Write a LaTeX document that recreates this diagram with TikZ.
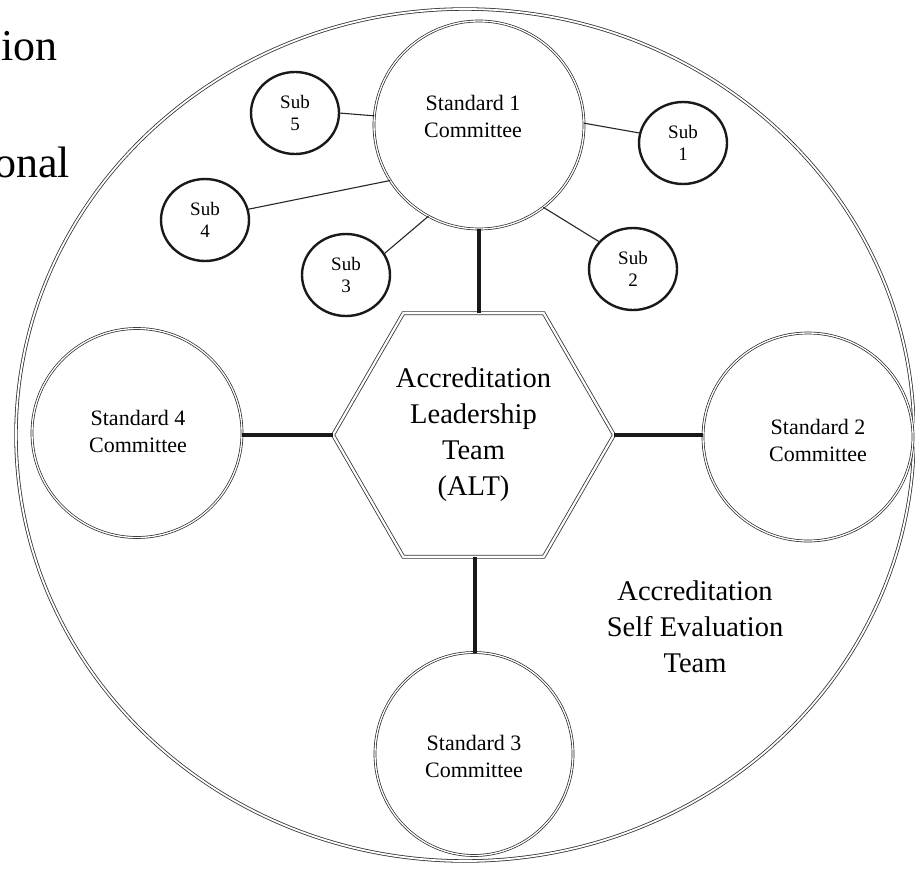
\documentclass[tikz,border=0pt]{standalone}
\usepackage{fontspec}
\setmainfont{Liberation Serif}
\usetikzlibrary{shapes.geometric}
\begin{document}
\begin{tikzpicture}[x=1pt,y=-1pt,
  stdbox/.style={ellipse,draw=black!85,line width=.7pt,double=white,double distance=1.3pt,
    inner sep=0pt,outer sep=0pt},
  stdtext/.style={align=center,font=\fontsize{22}{27}\selectfont},
  subbox/.style={ellipse,draw=black!90,line width=2.4pt,inner sep=0pt,outer sep=0pt,
    minimum width=88pt,minimum height=82pt,align=center,font=\fontsize{19}{22}\selectfont},
  bigtext/.style={align=center,font=\fontsize{28.5}{36}\selectfont},
  link/.style={line width=1.1pt,black!85},
  bar/.style={line width=4pt,black!90}]
\useasboundingbox (0,0) rectangle (915,870);
% slide text cut off at the left edge
\node[anchor=base east,font=\fontsize{44}{50}\selectfont,inner sep=0pt] (ion) at (58,60) {ion};
\node[anchor=base east,font=\fontsize{44}{50}\selectfont,inner sep=0pt] (onal) at (70,177) {onal};
% outer team circle
\node[ellipse,draw=black!80,line width=.8pt,double=white,double distance=1.8pt,
  minimum width=898pt,minimum height=852pt,inner sep=0pt] (ase) at (465,435) {};
\node[bigtext] (asetext) at (695,627) {Accreditation\\Self Evaluation\\Team};
% leadership team
\node[regular polygon,regular polygon sides=6,minimum size=281pt,inner sep=0pt,outer sep=0pt,
  draw=black!80,line width=.8pt,double=white,double distance=2.2pt,bigtext] (alt) at (473.5,435)
  {Accreditation\\Leadership\\Team\\(ALT)};
% standard committees
\node[stdbox,minimum width=210pt,minimum height=208pt] (std1) at (479,125) {};
\node[stdbox,minimum width=210pt,minimum height=208pt] (std2) at (808,437) {};
\node[stdbox,minimum width=198pt,minimum height=203pt] (std3) at (474,754) {};
\node[stdbox,minimum width=210pt,minimum height=209pt] (std4) at (137,433) {};
\node[stdtext] (std1text) at (473,116) {Standard 1\\Committee};
\node[stdtext] (std2text) at (818,440) {Standard 2\\Committee};
\node[stdtext] (std3text) at (474,756) {Standard 3\\Committee};
\node[stdtext] (std4text) at (138,431) {Standard 4\\Committee};
\draw[bar] (std1.south) -- (std1.south |- alt.north);
\draw[bar] (alt.east) -- (alt.east -| std2.west);
\draw[bar] (std3.north -| 475,0) -- (alt.south -| 475,0);
\draw[bar] (alt.west) -- (alt.west -| std4.east);
% subcommittees of standard 1
\node[subbox] (sub1) at (683,143) {Sub\\1};
\node[subbox] (sub2) at (633,269) {Sub\\2};
\node[subbox] (sub3) at (346,275) {Sub\\3};
\node[subbox] (sub4) at (205,220) {Sub\\4};
\node[subbox] (sub5) at (295,113) {Sub\\5};
\draw[link] (sub1.167) -- (std1.1);
\draw[link] (sub2.141) -- (std1.308);
\draw[link] (sub3.29) -- (std1.241);
\draw[link] (sub4.14) -- (std1.212);
\draw[link] (sub5.0) -- (std1.175);
\end{tikzpicture}
\end{document}
